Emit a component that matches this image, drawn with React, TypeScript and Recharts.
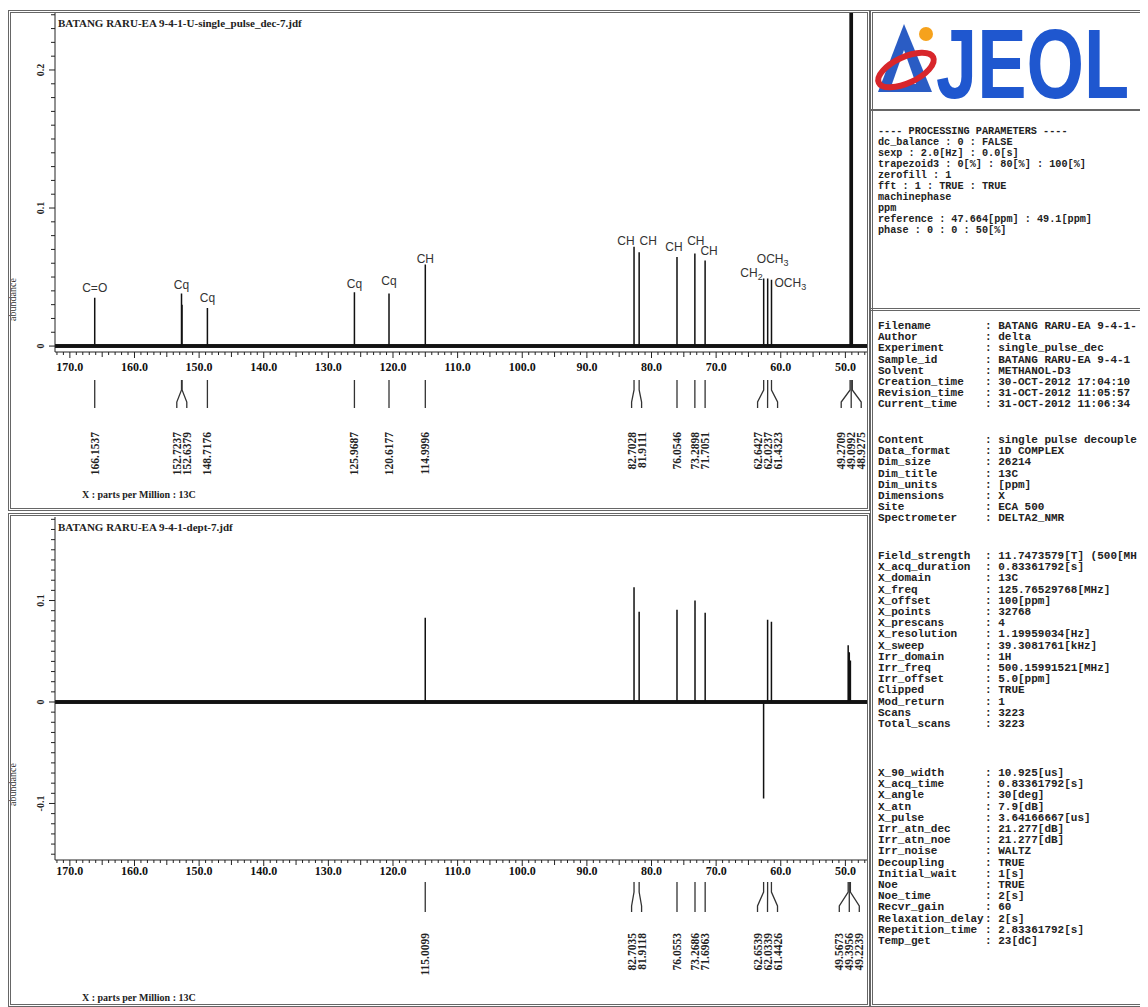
import React from 'react';
import { LineChart, Line, XAxis, YAxis, ReferenceDot } from 'recharts';

const PPM_MIN = 46.5;
const PPM_MAX = 172.3;
const PLOT_W = 813;
const PX_PER_PPM = PLOT_W / (PPM_MAX - PPM_MIN);
const LABEL_GAP = 10;

const serif = '"Liberation Serif", "DejaVu Serif", serif';
const mono = '"Liberation Mono", "DejaVu Sans Mono", monospace';
const sans = '"Liberation Sans", Arial, sans-serif';

// 13C single pulse decoupled spectrum
const topTitle = 'BATANG RARU-EA 9-4-1-U-single_pulse_dec-7.jdf';
const topPeakPpm = [166.1537, 152.7237, 152.6379, 148.7176, 125.9687, 120.6177, 114.9996, 82.7028, 81.9111, 76.0546, 73.2898, 71.7051, 62.6427, 62.0237, 61.4323, 49.2709, 49.0992, 48.9275];
const topPeakHeight = [0.035, 0.038, 0.03, 0.0275, 0.039, 0.038, 0.059, 0.072, 0.068, 0.0645, 0.067, 0.062, 0.049, 0.049, 0.048, 0.5, 0.5, 0.5];

// carbon type annotations
const topAnnPpm = [166.1537, 152.7237, 148.7176, 125.9687, 120.6177, 114.9996, 82.7028, 81.9111, 76.0546, 73.2898, 71.7051, 62.6427, 62.0237, 61.4323];
const topAnnText = ['C=O', 'Cq', 'Cq', 'Cq', 'Cq', 'CH', 'CH', 'CH', 'CH', 'CH', 'CH', 'CH2', 'OCH3', 'OCH3'];
// label placement relative to the peak top (layout only)
const topAnnLayout: { dx: number; dy: number; anchor: 'start' | 'middle' | 'end' }[] = [
  { dx: 0, dy: -6, anchor: 'middle' },
  { dx: 0, dy: -5, anchor: 'middle' },
  { dx: 0, dy: -6, anchor: 'middle' },
  { dx: 0, dy: -4, anchor: 'middle' },
  { dx: 0, dy: -9, anchor: 'middle' },
  { dx: 0, dy: -2, anchor: 'middle' },
  { dx: -8, dy: -2, anchor: 'middle' },
  { dx: 9, dy: -7, anchor: 'middle' },
  { dx: -3, dy: -6, anchor: 'middle' },
  { dx: 1, dy: -9, anchor: 'middle' },
  { dx: 4, dy: -5, anchor: 'middle' },
  { dx: -1, dy: -1, anchor: 'end' },
  { dx: 5, dy: -15, anchor: 'middle' },
  { dx: 3, dy: 7, anchor: 'start' },
];

// DEPT spectrum
const deptTitle = 'BATANG RARU-EA 9-4-1-dept-7.jdf';
const deptPeakPpm = [115.0099, 82.7035, 81.9118, 76.0553, 73.2686, 71.6963, 62.6539, 62.0339, 61.4426, 49.5673, 49.3956, 49.2239];
const deptPeakHeight = [0.083, 0.113, 0.089, 0.091, 0.1, 0.088, -0.095, 0.081, 0.079, 0.056, 0.049, 0.041];

const ppmScaleTicks = Array.from({ length: 126 }, (_, i) => 47 + i);
const topAbTicks = Array.from({ length: 25 }, (_, i) => i / 100);
const deptAbTicks = Array.from({ length: 34 }, (_, i) => (i - 15) / 100);

const processingLines = [
  '---- PROCESSING PARAMETERS ----',
  'dc_balance : 0 : FALSE',
  'sexp : 2.0[Hz] : 0.0[s]',
  'trapezoid3 : 0[%] : 80[%] : 100[%]',
  'zerofill : 1',
  'fft : 1 : TRUE : TRUE',
  'machinephase',
  'ppm',
  'reference : 47.664[ppm] : 49.1[ppm]',
  'phase : 0 : 0 : 50[%]',
];

const infoBlock1: [string, string][] = [
  ['Filename', 'BATANG RARU-EA 9-4-1-'],
  ['Author', 'delta'],
  ['Experiment', 'single_pulse_dec'],
  ['Sample_id', 'BATANG RARU-EA 9-4-1'],
  ['Solvent', 'METHANOL-D3'],
  ['Creation_time', '30-OCT-2012 17:04:10'],
  ['Revision_time', '31-OCT-2012 11:05:57'],
  ['Current_time', '31-OCT-2012 11:06:34'],
];
const infoBlock2: [string, string][] = [
  ['Content', 'single pulse decouple'],
  ['Data_format', '1D COMPLEX'],
  ['Dim_size', '26214'],
  ['Dim_title', '13C'],
  ['Dim_units', '[ppm]'],
  ['Dimensions', 'X'],
  ['Site', 'ECA 500'],
  ['Spectrometer', 'DELTA2_NMR'],
];
const infoBlock3: [string, string][] = [
  ['Field_strength', '11.7473579[T] (500[MH'],
  ['X_acq_duration', '0.83361792[s]'],
  ['X_domain', '13C'],
  ['X_freq', '125.76529768[MHz]'],
  ['X_offset', '100[ppm]'],
  ['X_points', '32768'],
  ['X_prescans', '4'],
  ['X_resolution', '1.19959034[Hz]'],
  ['X_sweep', '39.3081761[kHz]'],
  ['Irr_domain', '1H'],
  ['Irr_freq', '500.15991521[MHz]'],
  ['Irr_offset', '5.0[ppm]'],
  ['Clipped', 'TRUE'],
  ['Mod_return', '1'],
  ['Scans', '3223'],
  ['Total_scans', '3223'],
];
const infoBlock4: [string, string][] = [
  ['X_90_width', '10.925[us]'],
  ['X_acq_time', '0.83361792[s]'],
  ['X_angle', '30[deg]'],
  ['X_atn', '7.9[dB]'],
  ['X_pulse', '3.64166667[us]'],
  ['Irr_atn_dec', '21.277[dB]'],
  ['Irr_atn_noe', '21.277[dB]'],
  ['Irr_noise', 'WALTZ'],
  ['Decoupling', 'TRUE'],
  ['Initial_wait', '1[s]'],
  ['Noe', 'TRUE'],
  ['Noe_time', '2[s]'],
  ['Recvr_gain', '60'],
  ['Relaxation_delay', '2[s]'],
  ['Repetition_time', '2.83361792[s]'],
  ['Temp_get', '23[dC]'],
];

function buildTrace(ppm: number[], h: number[]) {
  const idx = ppm.map((_, i) => i).sort((a, b) => ppm[b] - ppm[a]);
  const pts: { x: number; y: number }[] = [{ x: PPM_MAX, y: 0 }];
  idx.forEach((i) => {
    pts.push({ x: ppm[i], y: 0 }, { x: ppm[i], y: h[i] }, { x: ppm[i], y: 0 });
  });
  pts.push({ x: PPM_MIN, y: 0 });
  return pts;
}

const baselineData = [{ x: PPM_MAX, y: 0 }, { x: PPM_MIN, y: 0 }];

// spread the peak-pick labels of close peaks
function layoutPicks(ppms: number[]) {
  const sorted = [...ppms].sort((a, b) => b - a);
  const groups: number[][] = [];
  sorted.forEach((p) => {
    const g = groups[groups.length - 1];
    if (g && g[g.length - 1] - p < 1.5) g.push(p);
    else groups.push([p]);
  });
  const info = new Map<number, { dx: number; grouped: boolean }>();
  groups.forEach((g) => {
    const c = (g[0] + g[g.length - 1]) / 2;
    g.forEach((p, i) => {
      info.set(p, { dx: (p - c) * PX_PER_PPM + (i - (g.length - 1) / 2) * LABEL_GAP, grouped: g.length > 1 });
    });
  });
  return info;
}

type PickCfg = { markTop: number; markBottom: number; labelTop: number; tickLabelDy: number };

function makePpmTick(info: Map<number, { dx: number; grouped: boolean }>, cfg: PickCfg) {
  return (props: any) => {
    const { x, y, payload } = props;
    const v = payload.value as number;
    const pick = info.get(v);
    if (!pick) {
      const major = v % 10 === 0;
      const mid = v % 5 === 0;
      const len = major ? 6 : mid ? 5 : 3;
      return (
        <g>
          <line x1={x} x2={x} y1={y} y2={y + len} stroke="#222" strokeWidth={1} />
          {major && (
            <text x={x} y={y + cfg.tickLabelDy} textAnchor="middle" fontFamily={serif} fontWeight="bold" fontSize={12} fill="#111">
              {v.toFixed(1)}
            </text>
          )}
        </g>
      );
    }
    const y0 = y + cfg.markTop;
    const y3 = y + cfg.markBottom;
    const lx = x + pick.dx;
    const d = pick.grouped
      ? `M${x},${y0} L${x},${y0 + 10} L${lx},${y3 - 6} L${lx},${y3}`
      : `M${x},${y0} L${x},${y3}`;
    return (
      <g>
        <path d={d} stroke="#333" fill="none" strokeWidth={1.3} />
        <text
          transform={`translate(${lx},${y + cfg.labelTop}) rotate(-90)`}
          dy="0.35em"
          textAnchor="end"
          fontFamily={serif}
          fontWeight="bold"
          fontSize={11.5}
          fill="#222"
        >
          {v.toFixed(4)}
        </text>
      </g>
    );
  };
}

const AbTick = (props: any) => {
  const { x, y, payload } = props;
  const v = payload.value as number;
  const major = Math.abs(Math.round(v * 100)) % 10 === 0;
  const label = Math.round(v * 10) === 0 ? '0' : String(Math.round(v * 10) / 10);
  return (
    <g>
      <line x1={x - (major ? 6 : 4)} x2={x} y1={y} y2={y} stroke="#222" strokeWidth={1} />
      {major && (
        <text transform={`translate(${x - 15},${y}) rotate(-90)`} dy="0.35em" textAnchor="middle" fontFamily={serif} fontWeight="bold" fontSize={10} fill="#222">
          {label}
        </text>
      )}
    </g>
  );
};

function annShape(text: string, lay: { dx: number; dy: number; anchor: 'start' | 'middle' | 'end' }) {
  const sub = /\d$/.test(text) ? text.slice(-1) : '';
  const main = sub ? text.slice(0, -1) : text;
  return (p: any) => (
    <text x={p.cx + lay.dx} y={p.cy + lay.dy} textAnchor={lay.anchor} fontFamily={sans} fontSize={12} fill="#333">
      {main}
      {sub && (
        <tspan dy={3} fontSize={9}>
          {sub}
        </tspan>
      )}
    </text>
  );
}

type SpectrumProps = {
  width: number;
  height: number;
  top: number;
  xAxisHeight: number;
  yDomain: [number, number];
  yTicks: number[];
  ppm: number[];
  heights: number[];
  cfg: PickCfg;
  annotations?: boolean;
};

const Spectrum = ({ width, height, top, xAxisHeight, yDomain, yTicks, ppm, heights, cfg, annotations }: SpectrumProps) => {
  const info = layoutPicks(ppm);
  const ticks = [...ppmScaleTicks, ...ppm].sort((a, b) => a - b);
  const trace = buildTrace(ppm, heights);
  const heightOf = (p: number) => heights[ppm.indexOf(p)];
  return (
    <LineChart width={width} height={height} margin={{ top, right: 2, left: 0, bottom: 0 }}>
      <XAxis
        dataKey="x"
        type="number"
        domain={[PPM_MIN, PPM_MAX]}
        allowDataOverflow
        reversed
        ticks={ticks}
        interval={0}
        tickSize={0}
        tickMargin={0}
        tickLine={false}
        height={xAxisHeight}
        axisLine={{ stroke: '#222' }}
        tick={makePpmTick(info, cfg)}
      />
      <YAxis
        type="number"
        domain={yDomain}
        allowDataOverflow
        ticks={yTicks}
        interval={0}
        tickSize={0}
        tickMargin={0}
        tickLine={false}
        width={47}
        axisLine={{ stroke: '#222' }}
        tick={AbTick}
      />
      <Line data={baselineData} dataKey="y" type="linear" stroke="#1a1a1a" strokeWidth={4} dot={false} isAnimationActive={false} />
      <Line data={trace} dataKey="y" type="linear" stroke="#111" strokeWidth={1.5} dot={false} isAnimationActive={false} />
      {annotations &&
        topAnnPpm.map((p, i) => (
          <ReferenceDot key={i} x={p} y={heightOf(p)} r={0} ifOverflow="visible" shape={annShape(topAnnText[i], topAnnLayout[i])} />
        ))}
    </LineChart>
  );
};

const InfoBlock = ({ rows, top }: { rows: [string, string][]; top: number }) => (
  <div style={{ position: 'absolute', left: 870, top, fontFamily: mono, fontWeight: 'bold', fontSize: 11, lineHeight: '11.2px', color: '#222', whiteSpace: 'pre' }}>
    {rows.map(([k, v]) => (
      <div key={k} style={{ display: 'flex' }}>
        <span style={{ display: 'inline-block', width: 107 }}>{k}</span>
        <span>: {v}</span>
      </div>
    ))}
  </div>
);

const frame = '3px double #666';

const App = () => (
  <div style={{ position: 'relative', width: 1140, height: 999, overflow: 'hidden', background: '#fff' }}>
    {/* 13C spectrum */}
    <div style={{ position: 'absolute', left: 0, top: 0 }}>
      <Spectrum
        width={862}
        height={503}
        top={4}
        xAxisHeight={159}
        yDomain={[-0.0043, 0.242]}
        yTicks={topAbTicks}
        ppm={topPeakPpm}
        heights={topPeakHeight}
        cfg={{ markTop: 28, markBottom: 56, labelTop: 80, tickLabelDy: 19 }}
        annotations
      />
    </div>
    {/* DEPT spectrum */}
    <div style={{ position: 'absolute', left: 0, top: 506 }}>
      <Spectrum
        width={862}
        height={493}
        top={3}
        xAxisHeight={147}
        yDomain={[-0.1557, 0.1823]}
        yTicks={deptAbTicks}
        ppm={deptPeakPpm}
        heights={deptPeakHeight}
        cfg={{ markTop: 22, markBottom: 52, labelTop: 73, tickLabelDy: 15 }}
      />
    </div>

    {/* titles and axis captions */}
    <div style={{ position: 'absolute', left: 50, top: 9, fontFamily: serif, fontWeight: 'bold', fontSize: 11, color: '#222', whiteSpace: 'nowrap' }}>{topTitle}</div>
    <div style={{ position: 'absolute', left: 50, top: 513, fontFamily: serif, fontWeight: 'bold', fontSize: 11, color: '#222', whiteSpace: 'nowrap' }}>{deptTitle}</div>
    <div style={{ position: 'absolute', left: 74, top: 481, fontFamily: serif, fontWeight: 'bold', fontSize: 10, color: '#222', whiteSpace: 'nowrap' }}>X : parts per Million : 13C</div>
    <div style={{ position: 'absolute', left: 74, top: 984, fontFamily: serif, fontWeight: 'bold', fontSize: 10, color: '#222', whiteSpace: 'nowrap' }}>X : parts per Million : 13C</div>
    <div style={{ position: 'absolute', left: -26, top: 286, width: 60, textAlign: 'center', transform: 'rotate(-90deg)', fontFamily: serif, fontSize: 10, color: '#333' }}>abundance</div>
    <div style={{ position: 'absolute', left: -26, top: 771, width: 60, textAlign: 'center', transform: 'rotate(-90deg)', fontFamily: serif, fontSize: 10, color: '#333' }}>abundance</div>

    {/* frames */}
    <div style={{ position: 'absolute', left: 0, top: 2, width: 862, height: 501, border: frame, boxSizing: 'border-box' }} />
    <div style={{ position: 'absolute', left: 0, top: 505, width: 862, height: 494, border: frame, boxSizing: 'border-box' }} />
    <div style={{ position: 'absolute', left: 862, top: 2, width: 280, height: 997, border: frame, boxSizing: 'border-box' }} />
    <div style={{ position: 'absolute', left: 862, top: 101, width: 278, height: 0, borderTop: '2px solid #666' }} />
    <div style={{ position: 'absolute', left: 862, top: 300, width: 278, height: 4, borderTop: frame }} />

    {/* JEOL logo */}
    <svg style={{ position: 'absolute', left: 862, top: 2 }} width={276} height={130}>
      <polygon points="34,14 8,82 62,82" fill="#2a5cc4" />
      <polygon points="34,40 22,74 46,74" fill="#fff" />
      <ellipse cx={36} cy={60} rx={30} ry={13} transform="rotate(-25 36 60)" fill="none" stroke="#d8262b" strokeWidth={6} />
      <circle cx={56} cy={24} r={7} fill="#f6a21c" />
      <g transform="translate(66,88) scale(1,1.33)">
        <text x={0} y={0} fontFamily={sans} fontWeight="bold" fontSize={74} fill="#1f57cf">
          JEOL
        </text>
      </g>
    </svg>

    {/* processing parameters */}
    <div style={{ position: 'absolute', left: 870, top: 118, fontFamily: mono, fontWeight: 'bold', fontSize: 10.2, lineHeight: '11px', color: '#222', whiteSpace: 'pre' }}>
      {processingLines.map((l) => (
        <div key={l}>{l}</div>
      ))}
    </div>

    <InfoBlock rows={infoBlock1} top={313} />
    <InfoBlock rows={infoBlock2} top={427} />
    <InfoBlock rows={infoBlock3} top={543} />
    <InfoBlock rows={infoBlock4} top={760} />
  </div>
);

export default App;
